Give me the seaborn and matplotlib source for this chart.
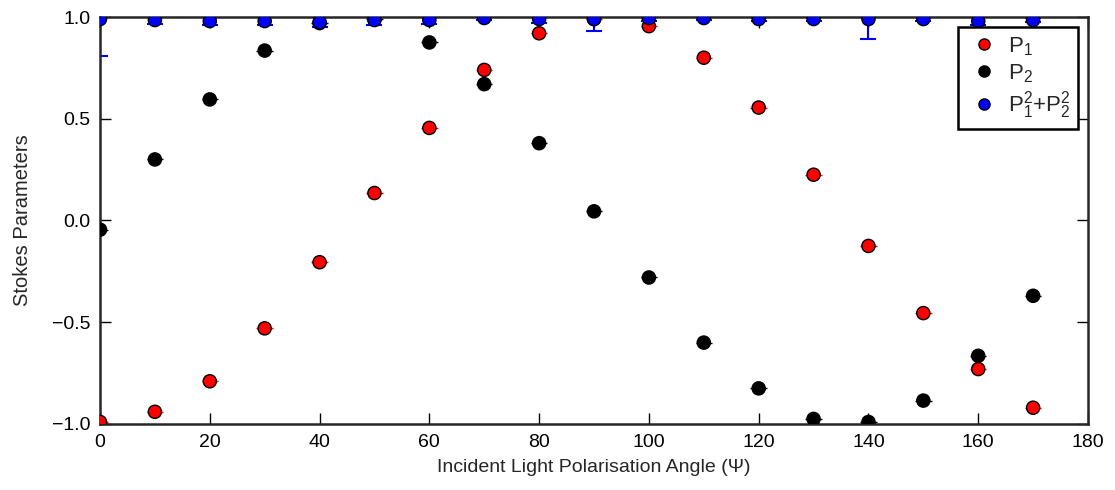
import numpy as np
import pandas as pd
import matplotlib
matplotlib.use("Agg")
import matplotlib.pyplot as plt
import seaborn as sns

# angles of the incident light (degrees)
angle = [0, 10, 20, 30, 40, 50, 60, 70, 80, 90, 100, 110, 120, 130, 140, 150, 160, 170]

# Stokes parameters
p1 = [-0.99, -0.94, -0.79, -0.53, -0.205, 0.135, 0.455, 0.74, 0.92, 0.99,
      0.955, 0.80, 0.555, 0.225, -0.125, -0.455, -0.73, -0.92]
p2 = [-0.045, 0.30, 0.595, 0.835, 0.97, 0.99, 0.875, 0.67, 0.38, 0.045,
      -0.28, -0.60, -0.825, -0.975, -0.99, -0.885, -0.665, -0.37]
psum = [0.99, 0.985, 0.98, 0.98, 0.975, 0.985, 0.985, 0.995, 0.99, 0.99,
        0.995, 0.995, 0.99, 0.99, 0.99, 0.99, 0.98, 0.985]
psum_err = [0.18, 0.02, 0.02, 0.02, 0.025, 0.025, 0.02, 0.01, 0.02, 0.06,
            0.015, 0.01, 0.01, 0.01, 0.10, 0.01, 0.02, 0.01]
x_err = 1.5

sns.set_style("ticks")
plt.rcParams['font.family'] = ['Liberation Sans', 'DejaVu Sans']
plt.rcParams['mathtext.fontset'] = 'custom'
plt.rcParams['mathtext.rm'] = 'Liberation Sans'
plt.rcParams['mathtext.it'] = 'Liberation Sans:italic'

df = pd.DataFrame({"angle": angle * 3,
                   "value": p1 + p2 + psum,
                   "param": ["P1"] * len(angle) + ["P2"] * len(angle) + ["Psum"] * len(angle)})

fig = plt.figure(figsize=(11.15, 4.9), dpi=100)
ax = fig.add_axes([0.0897, 0.1347, 0.8861, 0.8306])

ax.errorbar(angle, p1, xerr=x_err, fmt='none', ecolor='red', elinewidth=1, zorder=1)
ax.errorbar(angle, p2, xerr=x_err, fmt='none', ecolor='black', elinewidth=1, zorder=1)
ax.errorbar(angle, psum, yerr=psum_err, fmt='none', ecolor='blue', elinewidth=1.5,
            capsize=6, capthick=1.5, zorder=1)

sns.scatterplot(data=df, x="angle", y="value", hue="param",
                palette={"P1": "red", "P2": "black", "Psum": "blue"},
                s=90, edgecolor='black', linewidth=1, ax=ax, zorder=3, legend=False)

handles = [plt.Line2D([], [], ls='none', marker='o', markersize=8, mfc=c, mec='black')
           for c in ["red", "black", "blue"]]
labels = [r'P$_1$', r'P$_2$', r'P$_1^2$+P$_2^2$']
leg = ax.legend(handles, labels, loc='upper right', numpoints=1, fontsize=16,
                fancybox=False, framealpha=1, edgecolor='black',
                handletextpad=0.3, handlelength=1.6, borderpad=0.35, labelspacing=0.2,
                borderaxespad=0, bbox_to_anchor=(0.99, 0.975))
leg.get_frame().set_linewidth(1.8)

ax.set_xlim(0, 180)
ax.set_ylim(-1.0, 1.0)
ax.set_xticks(np.arange(0, 181, 20))
ax.set_yticks([-1.0, -0.5, 0.0, 0.5, 1.0])
ax.set_yticklabels(['\u22121.0', '\u22120.5', '0.0', '0.5', '1.0'])
ax.tick_params(direction='in', length=8, width=1, top=True, right=True,
               labelsize=14, pad=7, colors='black')
for s in ax.spines.values():
    s.set_linewidth(1.8)
    s.set_visible(True)
ax.set_xlabel('Incident Light Polarisation Angle (\u03a8)', fontsize=14, labelpad=6)
ax.set_ylabel('Stokes Parameters', fontsize=14.5, labelpad=14)

fig.savefig("out.png", dpi=100)
